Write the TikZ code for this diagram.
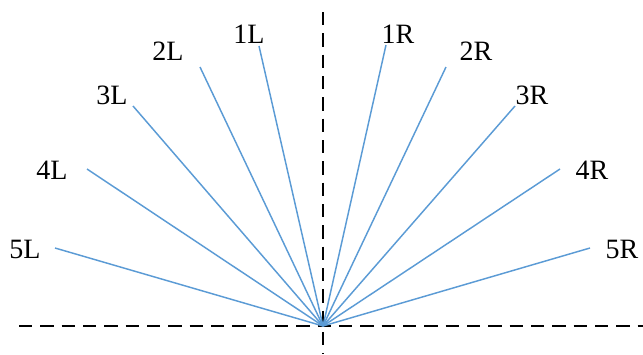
\documentclass[tikz,border=0pt]{standalone}
\usepackage{fontspec}
\setmainfont{Liberation Serif}
\definecolor{ray}{RGB}{91,155,213}
\begin{document}
\begin{tikzpicture}[x=0.75pt,y=-0.75pt,
  raystyle/.style={draw=ray,line width=1.1pt},
  axis/.style={draw=black,line width=1.6pt,dash pattern=on 10pt off 6pt},
  lab/.style={font=\fontsize{21}{25}\selectfont,inner sep=0pt}]
\useasboundingbox (0,0) rectangle (643,354);
\coordinate (O) at (323,326);
\coordinate (vt) at (323,12);
\coordinate (vb) at (323,354);
\coordinate (hl) at (19,326);
\coordinate (hr) at (643,326);
\draw[axis] (vt) -- (vb);
\draw[axis] (hl) -- (hr);
% ray ends
\coordinate (e1L) at (259,46);
\coordinate (e2L) at (200,67);
\coordinate (e3L) at (133,106);
\coordinate (e4L) at (87,169);
\coordinate (e5L) at (55,248);
\coordinate (e1R) at (386,45);
\coordinate (e2R) at (446,67);
\coordinate (e3R) at (515,106);
\coordinate (e4R) at (560,169);
\coordinate (e5R) at (590,248);
\foreach \e in {e1L,e2L,e3L,e4L,e5L,e1R,e2R,e3R,e4R,e5R}
  \draw[raystyle] (O) -- (\e);
% labels
\node[lab] (l1L) at (249,34) {1L};
\node[lab] (l2L) at (168,51) {2L};
\node[lab] (l3L) at (112,95) {3L};
\node[lab] (l4L) at (52,170) {4L};
\node[lab] (l5L) at (25,249) {5L};
\node[lab] (l1R) at (398,34) {1R};
\node[lab] (l2R) at (476,51) {2R};
\node[lab] (l3R) at (532,95) {3R};
\node[lab] (l4R) at (592,170) {4R};
\node[lab] (l5R) at (622,249) {5R};
\end{tikzpicture}
\end{document}
